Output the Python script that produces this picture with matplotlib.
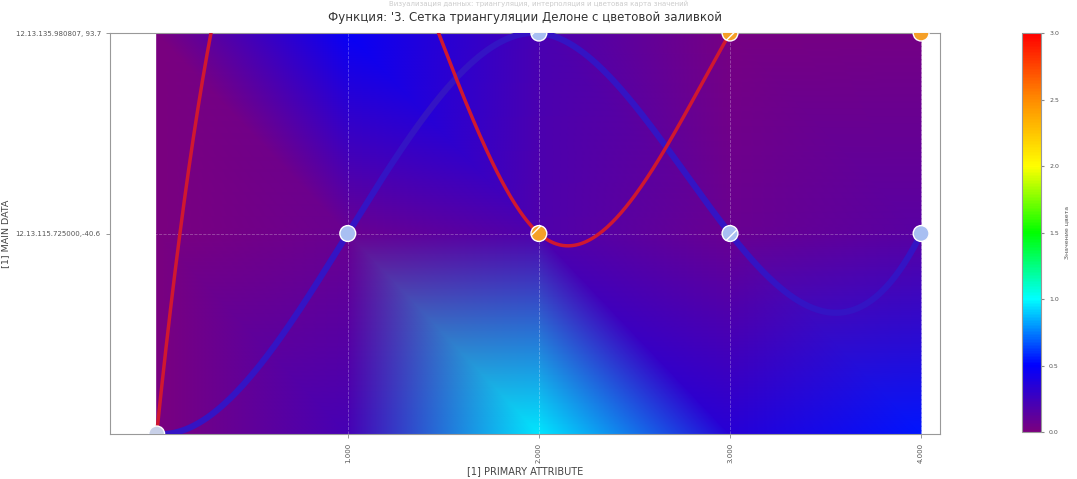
import matplotlib
matplotlib.use('Agg')
import matplotlib.pyplot as plt
import matplotlib.tri as mtri
from matplotlib.colors import LinearSegmentedColormap
import numpy as np

# grid of the colour field: 5 columns x 3 rows
grid_x = [0, 1, 2, 3, 4]
grid_y = [0, 1, 2]
field_vals = [
    [0.00, 0.22, 0.95, 0.35, 0.55],   # row y=0
    [0.00, 0.08, 0.18, 0.08, 0.15],   # row y=1
    [0.00, 0.48, 0.20, 0.02, 0.03],   # row y=2
]

# curves (cubic splines through these points)
blue_x = [0, 1, 2, 3, 4]
blue_y = [0, 1, 2, 1, 1]
red_x = [0, 1, 2, 3, 4]
red_y = [0, 3, 1, 2, 2]

# markers
pts_x = [0, 1, 1, 2, 2, 3, 3, 4, 4]
pts_y = [0, 1, 3, 1, 2, 1, 2, 1, 2]
pts_kind = ['start', 'blue', 'orange', 'orange', 'blue', 'blue', 'orange', 'blue', 'orange']

x_ticks = [1, 2, 3, 4]
x_labels = ['1.000', '2.000', '3.000', '4.000']
y_ticks = [1, 2]
y_labels = ['12.13.115.725000,-40.6', '12.13.135.980807, 93.7']
cbar_ticks = [0.0, 0.5, 1.0, 1.5, 2.0, 2.5, 3.0]


def not_a_knot_spline(xs, ys, n=500):
    xs = np.asarray(xs, float)
    ys = np.asarray(ys, float)
    k = len(xs)
    h = np.diff(xs)
    A = np.zeros((k, k))
    b = np.zeros(k)
    # not-a-knot ends: third derivative continuous at second and second-last knot
    A[0, 0], A[0, 1], A[0, 2] = h[1], -(h[0] + h[1]), h[0]
    A[-1, -3], A[-1, -2], A[-1, -1] = h[-1], -(h[-2] + h[-1]), h[-2]
    for i in range(1, k - 1):
        A[i, i - 1] = h[i - 1]
        A[i, i] = 2 * (h[i - 1] + h[i])
        A[i, i + 1] = h[i]
        b[i] = 6 * ((ys[i + 1] - ys[i]) / h[i] - (ys[i] - ys[i - 1]) / h[i - 1])
    M = np.linalg.solve(A, b)
    xx = np.linspace(xs[0], xs[-1], n)
    idx = np.clip(np.searchsorted(xs, xx) - 1, 0, k - 2)
    x0, x1 = xs[idx], xs[idx + 1]
    hh = x1 - x0
    yy = (M[idx] * (x1 - xx) ** 3 / (6 * hh) + M[idx + 1] * (xx - x0) ** 3 / (6 * hh)
          + (ys[idx] / hh - M[idx] * hh / 6) * (x1 - xx)
          + (ys[idx + 1] / hh - M[idx + 1] * hh / 6) * (xx - x0))
    return xx, yy


cmap = LinearSegmentedColormap.from_list(
    'purple_rainbow',
    ['#7a007f', '#0000ff', '#00ffff', '#00ff00', '#ffff00', '#ff8c00', '#ff0000'])

fig = plt.figure(figsize=(10.77, 4.79), dpi=100)
ax = fig.add_axes([0.102, 0.094, 0.771, 0.837])
cax = fig.add_axes([0.949, 0.098, 0.018, 0.833])

gx, gy = np.meshgrid(grid_x, grid_y)
gx = gx.ravel()
gy = gy.ravel()
vals = np.asarray(field_vals).ravel()
nc = len(grid_x)
tris = []
for j in range(len(grid_y) - 1):
    for i in range(nc - 1):
        a = j * nc + i
        tris.append([a, a + 1, a + nc])
        tris.append([a + 1, a + nc + 1, a + nc])
tri = mtri.Triangulation(gx, gy, tris)
tpc = ax.tripcolor(tri, vals, shading='gouraud', cmap=cmap, vmin=0, vmax=3)

bx, by = not_a_knot_spline(blue_x, blue_y)
ax.plot(bx, by, color='#3414c4', lw=4.5, solid_capstyle='round', zorder=3)
rx, ry = not_a_knot_spline(red_x, red_y)
ax.plot(rx, ry, color='#d01830', lw=2.5, zorder=4)

colors = {'start': '#c8d0e8', 'blue': '#a8bff2', 'orange': '#f5a028'}
for x, y, kind in zip(pts_x, pts_y, pts_kind):
    ax.scatter(x, y, s=130, facecolor=colors[kind], edgecolor='white',
               linewidth=1.0, hatch='/', zorder=5)

ax.set_xlim(-0.245, 4.1)
ax.set_ylim(0, 2)
ax.set_xticks(x_ticks)
ax.set_xticklabels(x_labels, rotation=90, fontsize=5, color='#555555')
ax.set_yticks(y_ticks)
ax.set_yticklabels(y_labels, fontsize=5, color='#555555')
ax.tick_params(length=3, width=0.6, colors='#888888', labelcolor='#555555')
ax.grid(True, color='white', alpha=0.3, linestyle='--', linewidth=0.6)
for sp in ax.spines.values():
    sp.set_color('#999999')
    sp.set_linewidth(0.8)

ax.set_xlabel('[1] PRIMARY ATTRIBUTE', fontsize=7, color='#444444', labelpad=2)
ax.set_ylabel('[1] MAIN DATA', fontsize=6.8, color='#444444', labelpad=4)
ax.set_title("Функция: '3. Сетка триангуляции Делоне с цветовой заливкой",
             fontsize=8.5, color='#333333', pad=9)
fig.text(0.5, 0.998, 'Визуализация данных: триангуляция, интерполяция и цветовая карта значений',
         ha='center', va='top', fontsize=5, color='#cccccc')

cb = fig.colorbar(tpc, cax=cax, ticks=cbar_ticks)
cb.ax.tick_params(labelsize=4.5, length=2, colors='#888888', labelcolor='#555555')
cb.set_label('Значение цвета', fontsize=4.5, color='#555555')
cb.outline.set_edgecolor('#999999')

fig.savefig('out.png', dpi=100)
